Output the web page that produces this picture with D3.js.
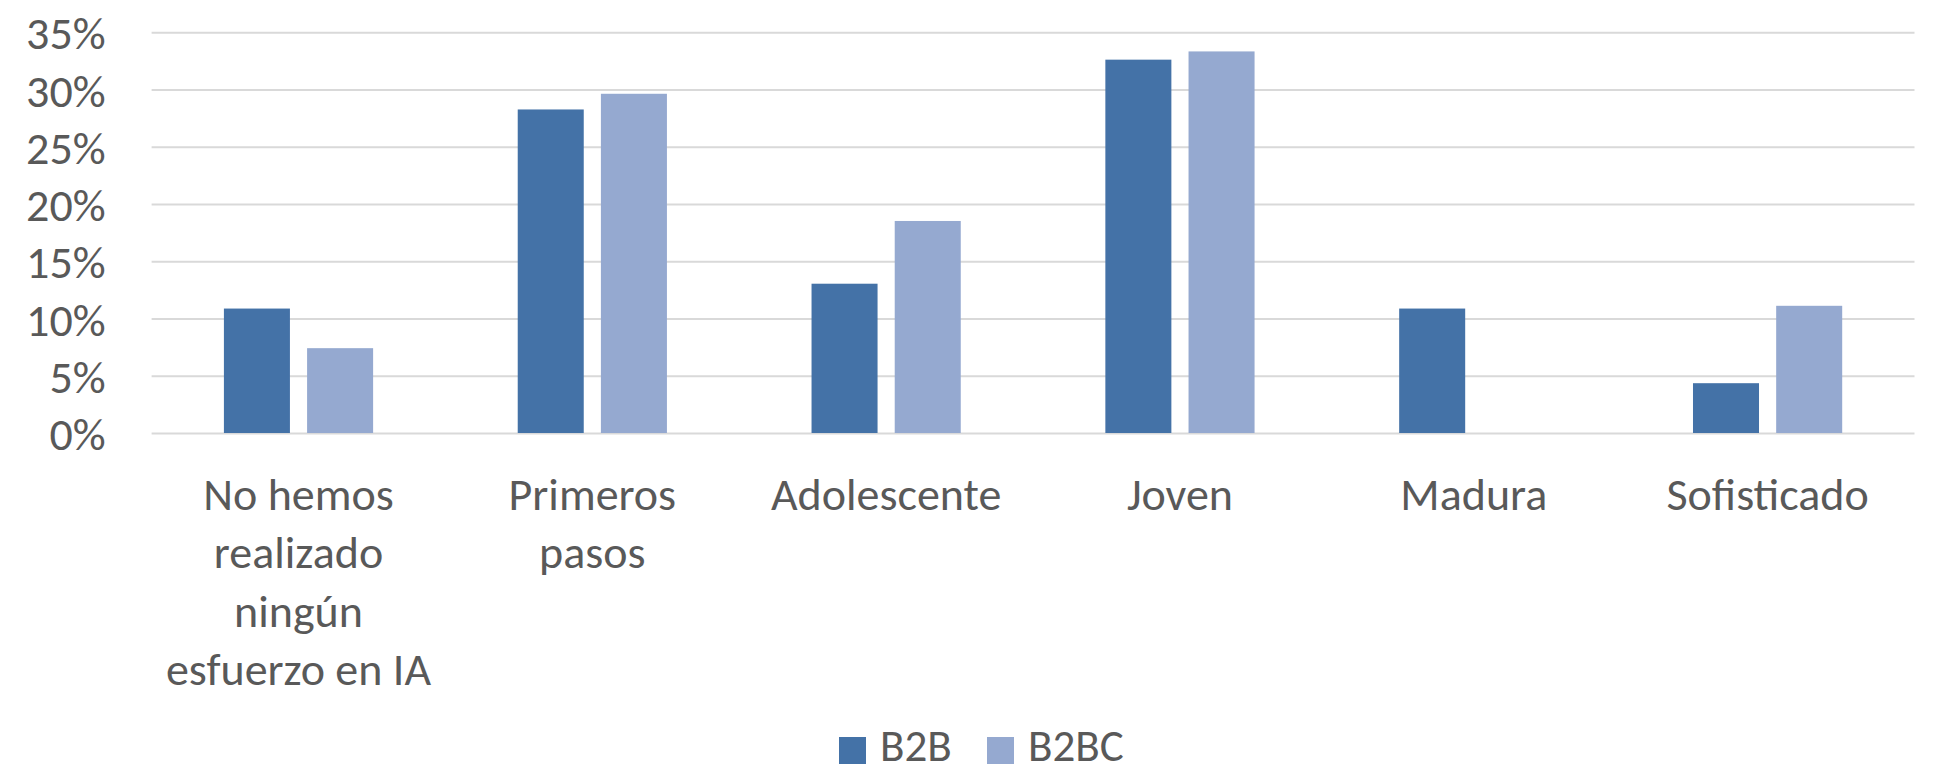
<!DOCTYPE html>
<html>
<head>
<meta charset="utf-8">
<script src="https://cdnjs.cloudflare.com/ajax/libs/d3/7.8.5/d3.min.js"></script>
<style>
  html, body { margin: 0; padding: 0; background: #fff; }
  svg text { font-family: Carlito, Calibri, "Liberation Sans Narrow", "DejaVu Sans Condensed", sans-serif; fill: #595959; }
</style>
</head>
<body>
<svg id="chart" width="1933" height="772"></svg>
<script>

// data
var categories = ['No hemos realizado ningún esfuerzo en IA', 'Primeros pasos', 'Adolescente', 'Joven', 'Madura', 'Sofisticado'];
var seriesNames = ['B2B', 'B2BC'];
var b2b = [0.1087, 0.2826, 0.1304, 0.3261, 0.1087, 0.0435];
var b2bc = [0.0741, 0.2963, 0.1852, 0.3333, 0, 0.1111];
var yTicks = [0, 0.05, 0.10, 0.15, 0.20, 0.25, 0.30, 0.35];

var colors = ['#4472a7', '#95a9d0'];

var width = 1933;
var height = 772;

var marginLeft = 151.6;
var marginRight = 18.5;
var plotTop = 32.3;
var plotBottom = 433;

var svg = d3.select('#chart');

var x = d3.scaleBand()
    .domain(categories)
    .range([marginLeft, width - marginRight])
    .padding(0);

var y = d3.scaleLinear()
    .domain([0, 0.35])
    .range([plotBottom, plotTop]);

var barW = x.bandwidth() * 0.2247;
var barGap = barW * 0.26;

// gridlines + y labels
var yAxis = d3.axisLeft(y)
    .tickValues(yTicks)
    .tickSize(-(width - marginRight - marginLeft))
    .tickPadding(0)
    .tickFormat(d3.format('.0%'));

var gy = svg.append('g')
    .attr('transform', 'translate(' + marginLeft + ',0)')
    .call(yAxis);

gy.select('.domain').remove();
gy.selectAll('.tick line')
    .attr('stroke', '#d9d9d9')
    .attr('stroke-width', 2);
gy.selectAll('.tick text')
    .attr('x', -46)
    .attr('dy', '0.36em')
    .style('font-size', '46px')
    .attr('fill', '#595959');

// bars
var rows = categories.map(function(c, i) { return { cat: c, vals: [b2b[i], b2bc[i]] }; });

var groups = svg.append('g').selectAll('g')
    .data(rows)
    .join('g')
    .attr('transform', function(d) { return 'translate(' + (x(d.cat) + x.bandwidth() / 2) + ',0)'; });

groups.selectAll('rect')
    .data(function(d) { return d.vals; })
    .join('rect')
    .attr('x', function(d, i) { return i === 0 ? -barGap / 2 - barW : barGap / 2; })
    .attr('y', function(d) { return y(d); })
    .attr('width', barW)
    .attr('height', function(d) { return plotBottom - y(d); })
    .attr('fill', function(d, i) { return colors[i]; })
    .attr('display', function(d) { return d > 0 ? null : 'none'; });

// category labels, wrapped
var labels = svg.append('g').selectAll('text')
    .data(categories)
    .join('text')
    .attr('x', function(d) { return x(d) + x.bandwidth() / 2; })
    .attr('y', 510)
    .attr('text-anchor', 'middle')
    .style('font-size', '46px');

labels.each(function(d) {
  var t = d3.select(this);
  var words = d.split(' ');
  var line = [];
  var lines = [];
  var maxW = 272;
  var probe = t.append('tspan');
  words.forEach(function(w) {
    var test = line.concat([w]).join(' ');
    probe.text(test);
    if (probe.node().getComputedTextLength() > maxW && line.length) {
      lines.push(line.join(' '));
      line = [w];
    } else {
      line.push(w);
    }
  });
  lines.push(line.join(' '));
  probe.remove();
  lines.forEach(function(l, i) {
    t.append('tspan')
      .attr('x', t.attr('x'))
      .attr('dy', i === 0 ? 0 : 58.3)
      .text(l);
  });
});

// legend
var legend = svg.append('g').attr('transform', 'translate(839,737)');
var legX = [0, 148];
seriesNames.forEach(function(s, i) {
  legend.append('rect')
    .attr('x', legX[i])
    .attr('y', 0)
    .attr('width', 27)
    .attr('height', 27)
    .attr('fill', colors[i]);
  legend.append('text')
    .attr('x', legX[i] + 41)
    .attr('y', 24)
    .style('font-size', '45px')
    .text(s);
});

</script>
</body>
</html>
